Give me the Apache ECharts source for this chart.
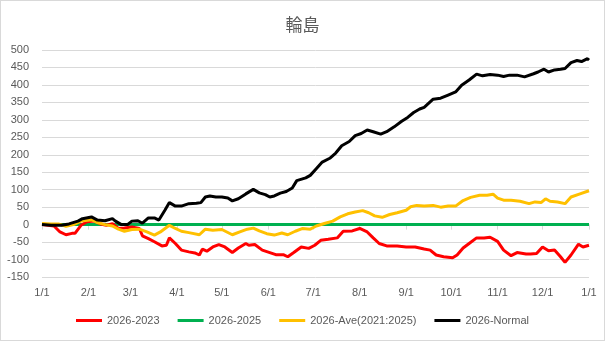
<!DOCTYPE html>
<html><head><meta charset="utf-8">
<script src="https://cdn.jsdelivr.net/npm/echarts@6/dist/echarts.min.js"></script>
<style>
html,body{margin:0;padding:0;background:#fff;}
#c{width:603px;height:339px;border:1px solid #d9d9d9;}
</style></head>
<body><div id="c"></div>
<script>
const title = '輪島';
const monthDays = [0,31,59,90,120,151,181,212,243,273,304,334,365];
const monthLabels = ['1/1','2/1','3/1','4/1','5/1','6/1','7/1','8/1','9/1','10/1','11/1','12/1','1/1'];
const seriesNames = ['2026-2023','2026-2025','2026-Ave(2021:2025)','2026-Normal'];

const diff2023 = [[0,0],[8,-4],[12,-21],[16,-29],[20,-25],[22,-25],[26,-2],[30,8],[35,10],[39,2],[43,-2],[47,3],[51,-11],[55,-10],[60,-7],[65,-11],[67,-32],[71,-40],[75,-49],[80,-61],[83,-59],[85,-38],[89,-54],[93,-73],[98,-78],[102,-81],[105,-87],[107,-70],[110,-76],[114,-64],[118,-57],[122,-64],[127,-80],[131,-67],[136,-54],[138,-59],[142,-57],[147,-73],[152,-80],[156,-86],[161,-86],[164,-92],[168,-80],[173,-64],[178,-68],[182,-59],[186,-45],[191,-42],[197,-38],[201,-19],[207,-18],[212,-11],[217,-21],[221,-38],[225,-54],[230,-61],[237,-61],[243,-64],[249,-64],[255,-70],[259,-73],[263,-87],[268,-92],[274,-95],[277,-87],[281,-67],[285,-54],[290,-38],[295,-38],[299,-36],[304,-48],[308,-73],[313,-89],[317,-80],[323,-84],[326,-84],[330,-83],[334,-64],[338,-75],[342,-73],[346,-92],[349,-108],[353,-87],[358,-56],[361,-64],[365,-59]];
const diff2025 = [[0,0],[365,0]];
const diffAve = [[0,3],[6,2],[11,2],[16,-5],[21,0],[26,10],[33,14],[37,6],[42,0],[47,-4],[51,-13],[55,-19],[60,-14],[65,-13],[70,-21],[75,-30],[79,-21],[85,-2],[89,-11],[93,-19],[98,-23],[105,-29],[109,-13],[114,-16],[120,-14],[127,-29],[132,-21],[137,-13],[141,-10],[145,-18],[150,-26],[155,-30],[160,-24],[164,-29],[169,-19],[174,-11],[179,-13],[183,-4],[189,4],[194,10],[199,22],[204,31],[209,36],[214,40],[218,34],[222,25],[227,21],[232,29],[237,34],[243,41],[246,51],[250,55],[255,53],[261,55],[266,50],[271,53],[276,53],[281,69],[286,78],[292,84],[297,84],[301,87],[304,76],[308,70],[313,70],[319,67],[325,60],[329,65],[333,63],[336,74],[339,67],[344,65],[349,60],[353,79],[359,88],[365,97]];
const diffNormal = [[0,0],[6,-2],[13,-2],[18,2],[24,10],[27,17],[33,22],[37,13],[42,11],[47,17],[49,10],[53,0],[57,0],[60,10],[64,11],[67,4],[71,19],[75,19],[78,13],[82,41],[85,63],[89,53],[93,53],[98,60],[103,61],[106,63],[109,79],[112,82],[116,79],[120,79],[124,76],[127,68],[131,74],[136,88],[141,101],[145,91],[149,86],[152,79],[155,82],[159,90],[163,95],[167,105],[170,126],[176,134],[179,141],[183,160],[187,179],[192,190],[196,205],[200,226],[205,238],[209,255],[213,261],[217,271],[221,266],[226,259],[230,266],[235,280],[240,296],[244,307],[248,321],[252,331],[255,336],[261,359],[266,362],[271,371],[276,380],[280,399],[285,414],[290,431],[294,426],[299,430],[304,428],[308,424],[312,428],[317,428],[322,423],[328,432],[331,437],[335,445],[338,437],[342,443],[346,445],[349,447],[353,464],[357,470],[360,467],[364,475],[365,471]];

const colors = ['#ff0000','#00b050','#ffc000','#000000'];
const datasets = [diff2023, diff2025, diffAve, diffNormal];

const chart = echarts.init(document.getElementById('c'));
chart.setOption({
  animation:false,
  title:{text:title,left:'center',top:10,textStyle:{fontFamily:'Noto Sans CJK JP',fontSize:17,fontWeight:'normal',color:'#595959'}},
  grid:{left:41,right:15,top:49,bottom:63},
  legend:{bottom:9,left:'center',icon:'rect',itemWidth:26,itemHeight:3,itemGap:18,
    textStyle:{fontFamily:'Liberation Sans',fontSize:11,color:'#595959'},data:seriesNames},
  xAxis:{type:'value',min:0,max:365,
    axisLine:{show:true,lineStyle:{color:'#d9d9d9'}},
    axisTick:{show:true,length:5,customValues:monthDays,lineStyle:{color:'#d9d9d9'}},
    axisLabel:{customValues:monthDays,margin:10,fontFamily:'Liberation Sans',fontSize:11,color:'#595959',
      formatter:(v)=>{const i=monthDays.indexOf(Math.round(v));return i>=0?monthLabels[i]:'';}},
    splitLine:{show:false}},
  yAxis:{type:'value',min:-150,max:500,interval:50,
    axisLine:{show:false},axisTick:{show:false},
    axisLabel:{margin:13,fontFamily:'Liberation Sans',fontSize:11,color:'#595959'},
    splitLine:{lineStyle:{color:'#d9d9d9'}}},
  series: seriesNames.map((n,i)=>({name:n,type:'line',data:datasets[i],symbol:'none',
    lineStyle:{width:3,color:colors[i]},itemStyle:{color:colors[i]},z: i===1?1:(i===3?4:2+i)}))
});
</script></body></html>
